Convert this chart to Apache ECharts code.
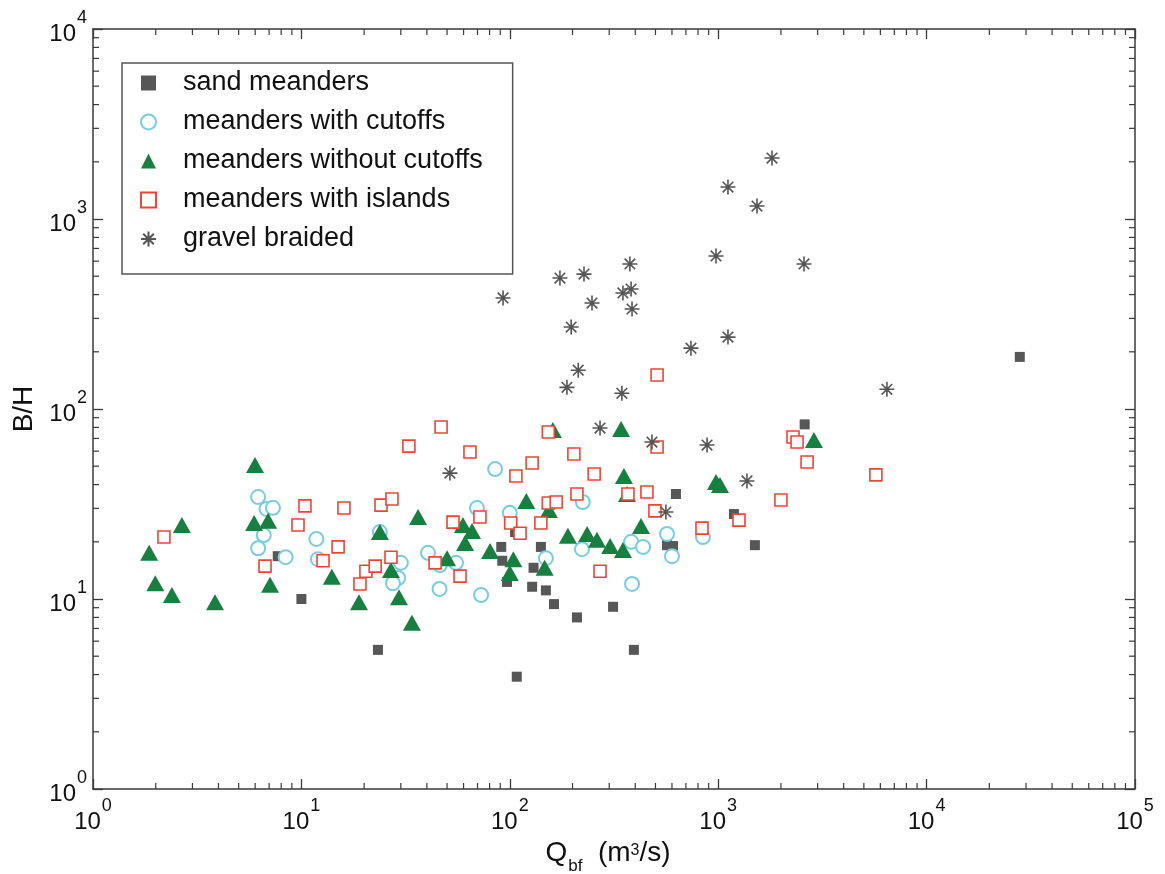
<!DOCTYPE html>
<html>
<head>
<meta charset="utf-8">
<script src="https://cdn.jsdelivr.net/npm/echarts@6/dist/echarts.min.js"></script>
<style>
  html, body { margin: 0; padding: 0; background: #fff; }
  #chart { width: 1165px; height: 874px; }
</style>
</head>
<body>
<div id="chart"></div>
<script>
// Channel width-to-depth ratio (B/H) against bankfull discharge Q_bf
const FONT = "'Liberation Sans', Arial, Helvetica, sans-serif";

const X_RANGE = [1, 100000];
const Y_RANGE = [1, 10000];

const seriesNames = [
  'sand meanders',
  'meanders with cutoffs',
  'meanders without cutoffs',
  'meanders with islands',
  'gravel braided'
];

// sand meanders
const sandQ = [28000, 2600, 1190, 1500, 627, 568, 607, 313, 210, 394, 108, 163, 149, 128, 130, 141, 97, 91, 92, 106, 10, 23.3, 7.7];
const sandBH = [188, 83, 28, 19.2, 35.7, 19.2, 19.0, 9.1, 8.0, 5.4, 3.9, 9.4, 11.1, 11.6, 14.6, 18.8, 12.3, 18.8, 15.9, 22.5, 10, 5.4, 16.8];

// meanders with cutoffs
const cutoffQ = [6.2, 6.8, 7.3, 6.6, 6.2, 8.4, 11.8, 12.0, 23.8, 30, 29.1, 27.5, 40.5, 46.2, 55.2, 46, 72.8, 69.6, 85, 100, 149, 224, 222, 382, 436, 386, 568, 600, 845];
const cutoffBH = [34.4, 29.8, 30.2, 21.7, 18.5, 16.6, 20.7, 16.2, 22.5, 15.5, 12.9, 12.1, 17.5, 15.1, 15.5, 11.3, 10.5, 30.1, 48.3, 28.4, 16.4, 32.4, 18.3, 20, 18.8, 12, 22, 16.8, 21.2];

// meanders without cutoffs
const noCutoffQ = [1.86, 1.99, 2.39, 2.67, 3.85, 5.99, 5.93, 6.92, 7.07, 14, 18.9, 23.8, 26.9, 29.4, 33.9, 36.3, 50, 59.6, 65.9, 61, 80.4, 100, 104, 120, 147, 154, 161, 190, 235, 262, 303, 342, 349, 353, 365, 426, 976, 1020, 2880];
const noCutoffBH = [17.5, 12.1, 10.5, 24.5, 9.6, 50.7, 25.1, 25.8, 11.9, 13.1, 9.6, 22.5, 14.2, 10.2, 7.5, 27, 16.4, 24.5, 22.8, 19.7, 17.9, 13.7, 16.2, 32.8, 14.6, 29.4, 77.5, 21.5, 22, 20.5, 19, 78.5, 18.1, 44.4, 35.7, 24.2, 41.3, 39.8, 68.7];

// meanders with islands
const islandQ = [2.19, 6.69, 9.63, 10.4, 12.7, 15, 16, 19.1, 20.4, 22.6, 24.1, 26.9, 27.2, 32.8, 43.8, 46.8, 53.4, 57.7, 64.4, 71.9, 101, 107, 112, 128, 141, 153, 153, 167, 203, 210, 254, 271, 369, 455, 497, 509, 509, 836, 1258, 2000, 2285, 2390, 2670, 5710];
const islandBH = [21.2, 14.9, 24.5, 30.9, 15.9, 18.8, 30.1, 12, 14, 14.9, 31.2, 16.6, 33.6, 63.8, 15.5, 80.4, 25.4, 13.2, 59.4, 27, 25.1, 44.4, 22.2, 52, 25.1, 75.7, 32, 32.4, 58, 35.7, 45.5, 14, 35.7, 36.6, 29.1, 151, 63.1, 23.6, 26, 33.2, 71.2, 67, 52.6, 45];

// gravel braided
const gravelQ = [51.6, 92.8, 174, 188, 197, 213, 227, 248, 271, 345, 349, 377, 382, 386, 481, 561, 740, 884, 976, 1114, 1114, 1374, 1535, 1812, 2580, 6450];
const gravelBH = [46, 384, 489, 130, 270, 160, 513, 361, 79.4, 121, 408, 580, 428, 336, 67, 28.7, 209, 64.6, 639, 1473, 239, 41.8, 1170, 2094, 580, 127];

// decades and in-between multipliers for the minor tick marks
const xDecades = [1, 10, 100, 1000, 10000];
const yDecades = [1, 10, 100, 1000];
const minorSteps = [2, 3, 4, 5, 6, 7, 8, 9];

function pairs(xs, ys) { return xs.map((x, i) => [x, ys[i]]); }
function minorValues(decades) {
  const out = [];
  decades.forEach(d => minorSteps.forEach(m => out.push(d * m)));
  return out;
}

const ASTERISK = 'path://M10,0V20M0,10H20M2.93,2.93L17.07,17.07M2.93,17.07L17.07,2.93';
const FRAME = '#3a3a3a';

// "10" with the exponent raised as a superscript
const powLabel = {
  formatter: v => '{b|10}{s|' + Math.round(Math.log10(v)) + '}',
  rich: {
    b: { fontFamily: FONT, fontSize: 24, color: '#111', lineHeight: 28, padding: [10, 0, 0, 0] },
    s: { fontFamily: FONT, fontSize: 18, color: '#111', padding: [0, 0, 22, 1] }
  }
};

const MINOR_LEN = 6;

const chart = echarts.init(document.getElementById('chart'), null, { renderer: 'canvas' });

chart.setOption({
  animation: false,
  backgroundColor: '#fff',
  grid: { left: 93, right: 30, top: 29, bottom: 85, containLabel: false, outerBoundsMode: 'none' },
  legend: {
    data: seriesNames,
    orient: 'vertical',
    left: 122,
    top: 63,
    padding: [6, 30, 21, 18],
    itemWidth: 15,
    itemHeight: 15,
    itemGap: 11,
    borderColor: '#555',
    borderWidth: 1.5,
    backgroundColor: '#fff',
    selectedMode: false,
    textStyle: { fontFamily: FONT, fontSize: 27, color: '#111', lineHeight: 28, padding: [0, 0, 0, 22] }
  },
  xAxis: [
    {
      type: 'log', logBase: 10, min: X_RANGE[0], max: X_RANGE[1], position: 'bottom',
      name: '{q|Q}{sub|bf}{t|  (m}{sup|3}{t|/s)}',
      nameLocation: 'middle', nameGap: 39,
      nameTextStyle: {
        padding: [0, 12, 0, 0],
        rich: {
          q: { fontFamily: FONT, fontSize: 28, color: '#111', lineHeight: 30 },
          t: { fontFamily: FONT, fontSize: 28, color: '#111', lineHeight: 30 },
          sub: { fontFamily: FONT, fontSize: 17, color: '#111', padding: [26, 0, 0, 1] },
          sup: { fontFamily: FONT, fontSize: 16, color: '#111', padding: [0, 0, 4, 0] }
        }
      },
      axisLine: { onZero: false, lineStyle: { color: FRAME, width: 1.5 } },
      axisTick: { inside: true, length: 10, lineStyle: { color: FRAME, width: 1.3 } },
      axisLabel: Object.assign({ margin: 8 }, powLabel),
      splitLine: { show: false },
      minorTick: { show: false }
    },
    {
      type: 'log', logBase: 10, min: X_RANGE[0], max: X_RANGE[1], position: 'top',
      axisLine: { onZero: false, lineStyle: { color: FRAME, width: 1.5 } },
      axisTick: { inside: true, length: 10, lineStyle: { color: FRAME, width: 1.3 } },
      axisLabel: { show: false },
      splitLine: { show: false }
    }
  ],
  yAxis: [
    {
      type: 'log', logBase: 10, min: Y_RANGE[0], max: Y_RANGE[1], position: 'left',
      name: 'B/H', nameLocation: 'middle', nameGap: 46, nameRotate: 90,
      nameTextStyle: { fontFamily: FONT, fontSize: 28, color: '#111' },
      axisLine: { onZero: false, lineStyle: { color: FRAME, width: 1.5 } },
      axisTick: { inside: true, length: 10, lineStyle: { color: FRAME, width: 1.3 } },
      axisLabel: Object.assign({ margin: 6 }, powLabel),
      splitLine: { show: false }
    },
    {
      type: 'log', logBase: 10, min: Y_RANGE[0], max: Y_RANGE[1], position: 'right',
      axisLine: { onZero: false, lineStyle: { color: FRAME, width: 1.5 } },
      axisTick: { inside: true, length: 10, lineStyle: { color: FRAME, width: 1.3 } },
      axisLabel: { show: false },
      splitLine: { show: false }
    }
  ],
  series: [
    {
      // minor ticks along the bottom and top edges
      type: 'custom', silent: true, xAxisIndex: 0, yAxisIndex: 0,
      data: minorValues(xDecades).map(v => [v, Y_RANGE[0]]),
      renderItem: (params, api) => {
        const v = api.value(0);
        const b = api.coord([v, Y_RANGE[0]]);
        const t = api.coord([v, Y_RANGE[1]]);
        const st = { stroke: FRAME, lineWidth: 1.2 };
        return { type: 'group', children: [
          { type: 'line', shape: { x1: b[0], y1: b[1], x2: b[0], y2: b[1] - MINOR_LEN }, style: st },
          { type: 'line', shape: { x1: t[0], y1: t[1], x2: t[0], y2: t[1] + MINOR_LEN }, style: st }
        ] };
      },
      z: 1
    },
    {
      // minor ticks along the left and right edges
      type: 'custom', silent: true, xAxisIndex: 0, yAxisIndex: 0,
      data: minorValues(yDecades).map(v => [X_RANGE[0], v]),
      renderItem: (params, api) => {
        const v = api.value(1);
        const l = api.coord([X_RANGE[0], v]);
        const r = api.coord([X_RANGE[1], v]);
        const st = { stroke: FRAME, lineWidth: 1.2 };
        return { type: 'group', children: [
          { type: 'line', shape: { x1: l[0], y1: l[1], x2: l[0] + MINOR_LEN, y2: l[1] }, style: st },
          { type: 'line', shape: { x1: r[0], y1: r[1], x2: r[0] - MINOR_LEN, y2: r[1] }, style: st }
        ] };
      },
      z: 1
    },
    {
      name: seriesNames[0], type: 'scatter', data: pairs(sandQ, sandBH),
      symbol: 'rect', symbolSize: 10,
      itemStyle: { color: '#575757', opacity: 1 }
    },
    {
      name: seriesNames[1], type: 'scatter', data: pairs(cutoffQ, cutoffBH),
      symbol: 'circle', symbolSize: 14,
      itemStyle: { color: '#fff', borderColor: '#78cde0', borderWidth: 2, opacity: 1 }
    },
    {
      name: seriesNames[2], type: 'scatter', data: pairs(noCutoffQ, noCutoffBH),
      symbol: 'triangle', symbolSize: [18, 16],
      itemStyle: { color: '#177f3f', opacity: 1 }
    },
    {
      name: seriesNames[3], type: 'scatter', data: pairs(islandQ, islandBH),
      symbol: 'rect', symbolSize: 12,
      itemStyle: { color: '#fff', borderColor: '#ee4433', borderWidth: 1.6, opacity: 1 }
    },
    {
      name: seriesNames[4], type: 'scatter', data: pairs(gravelQ, gravelBH),
      symbol: ASTERISK, symbolSize: 15,
      itemStyle: { color: 'transparent', borderColor: '#555', borderWidth: 1.6, opacity: 1 }
    }
  ]
});
</script>
</body>
</html>
